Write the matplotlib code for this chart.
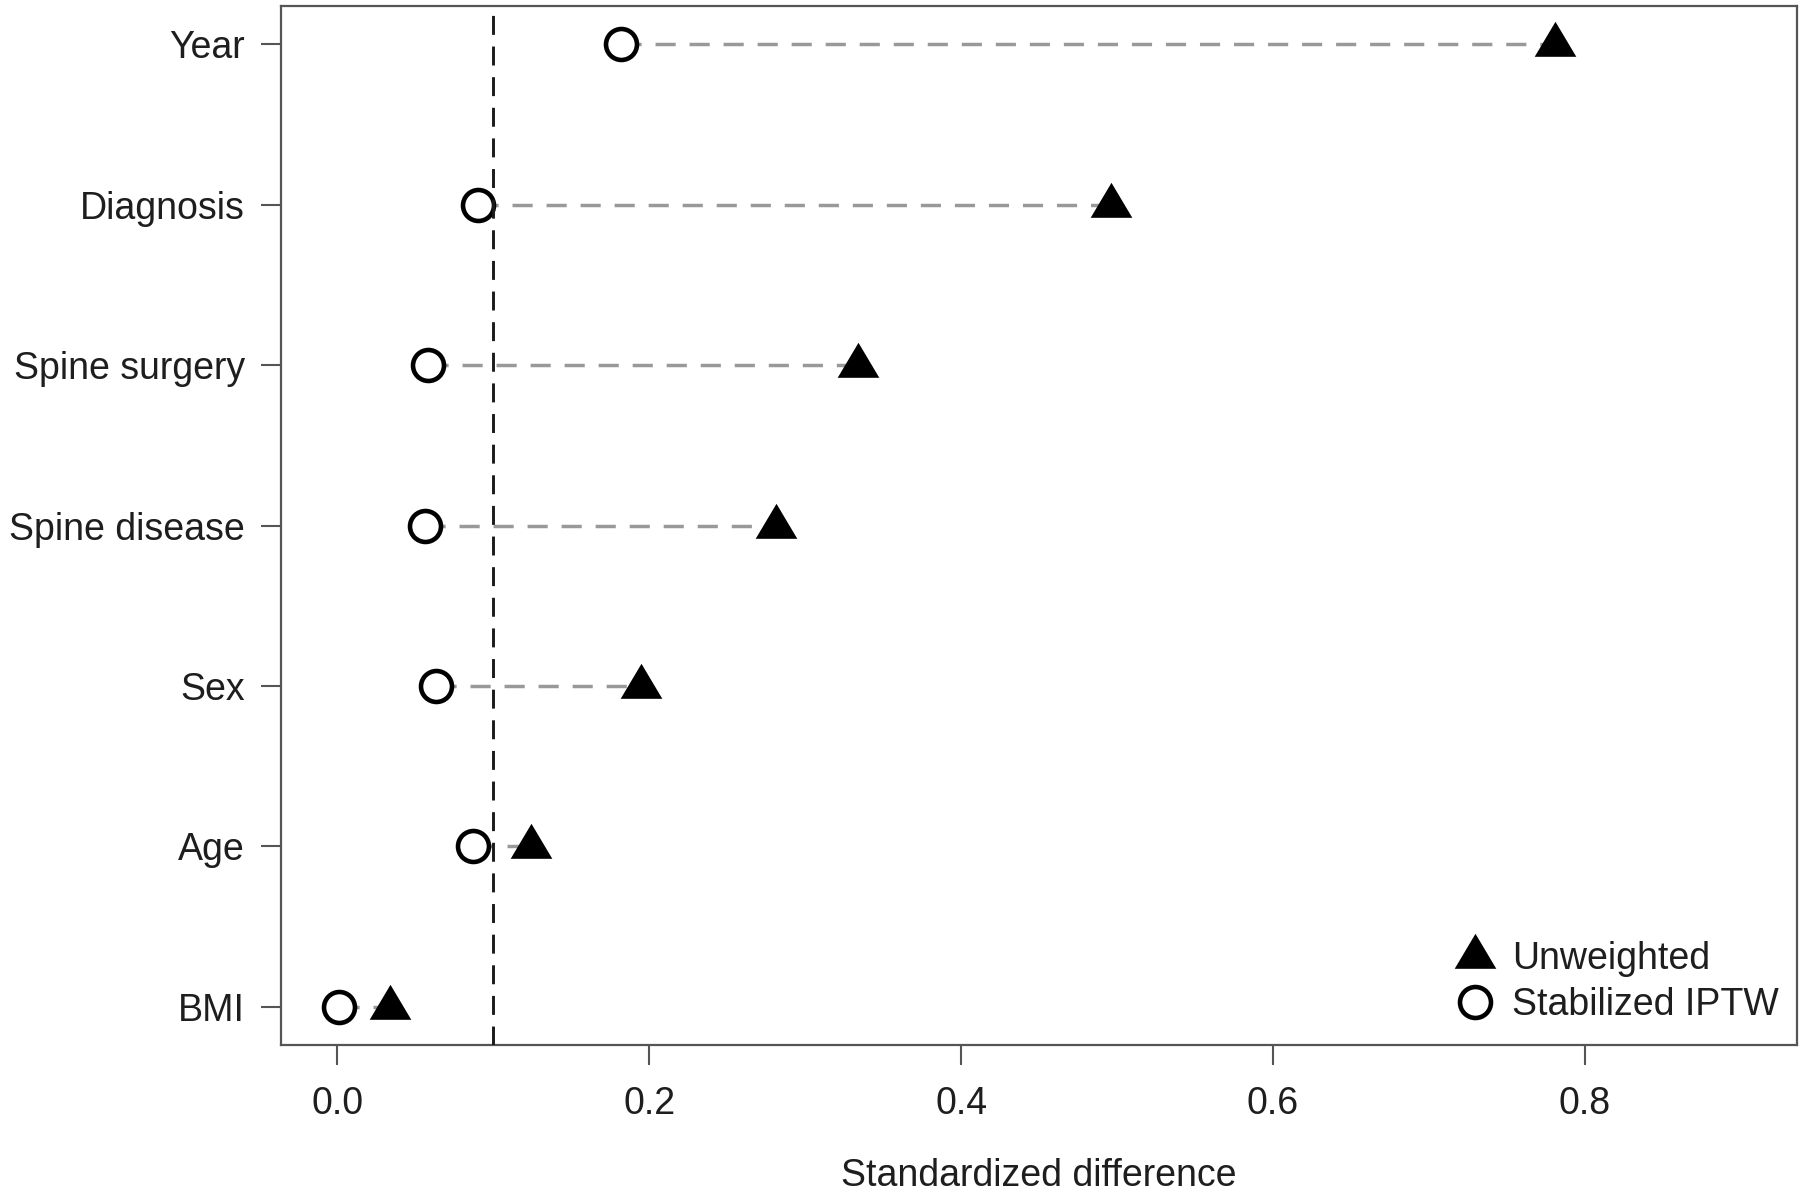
"""
Covariate balance plot: standardized difference before (unweighted) and
after stabilized IPTW weighting, with the 0.1 threshold marked.
"""
import matplotlib
matplotlib.use("Agg")
import matplotlib.pyplot as plt
from matplotlib.lines import Line2D
from matplotlib.path import Path

plt.rcParams["font.family"] = ["Liberation Sans", "DejaVu Sans"]

# ----- data -----
covariates = ["Year", "Diagnosis", "Spine surgery", "Spine disease", "Sex", "Age", "BMI"]
unweighted = [0.781, 0.496, 0.334, 0.281, 0.195, 0.124, 0.034]
stabilized_iptw = [0.182, 0.090, 0.058, 0.056, 0.063, 0.087, 0.001]
threshold = 0.1
x_ticks = [0.0, 0.2, 0.4, 0.6, 0.8]
x_tick_labels = ["0.0", "0.2", "0.4", "0.6", "0.8"]

TEXT = "#1e1e1e"
FRAME = "#555555"
FS = 27

# R-style filled triangle (pch 17): centred near the centroid, not the bbox
tri = Path([(0.0, 1.0), (-0.917, -0.542), (0.917, -0.542), (0.0, 1.0)],
           [Path.MOVETO, Path.LINETO, Path.LINETO, Path.CLOSEPOLY])
TRI_SIZE = 32.7
CIRC_SIZE = 22.3
CIRC_EW = 3.3

fig = plt.figure(figsize=(18, 11.95), dpi=100)
ax = fig.add_axes([0.1563, 0.1255, 0.8419, 0.8695])

# rows from top (Year) to bottom (BMI)
n = len(covariates)
ypos = list(range(n, 0, -1))

for y, a, b in zip(ypos, stabilized_iptw, unweighted):
    ax.plot([a, b], [y, y], color="#999999", lw=2.5, dashes=(5.8, 4.0),
            dash_capstyle="butt", zorder=1)

ax.axvline(threshold, color="#1a1a1a", lw=2.1, dashes=(6.5, 4.0), zorder=5)

ax.plot(unweighted, ypos, linestyle="none", marker=tri, markersize=TRI_SIZE,
        color="black", markeredgewidth=0, zorder=4)
ax.plot(stabilized_iptw, ypos, linestyle="none", marker="o", markersize=CIRC_SIZE,
        markerfacecolor="white", markeredgecolor="black",
        markeredgewidth=CIRC_EW, zorder=4)

ax.set_xlim(-0.036, 0.936)
ax.set_ylim(0.76, 7.24)

ax.set_yticks(ypos)
ax.set_yticklabels(covariates)
ax.set_xticks(x_ticks)
ax.set_xticklabels(x_tick_labels)

ax.tick_params(axis="both", colors=FRAME, labelcolor=TEXT, labelsize=FS,
               length=14.4, width=1.5)
ax.tick_params(axis="y", pad=12)
ax.tick_params(axis="x", pad=15)

for sp in ax.spines.values():
    sp.set_color(FRAME)
    sp.set_linewidth(1.6)

ax.set_xlabel("Standardized difference", fontsize=FS, color=TEXT)
ax.xaxis.set_label_coords(0.5, -0.109)

handles = [
    Line2D([], [], linestyle="none", marker=tri, markersize=TRI_SIZE,
           color="black", markeredgewidth=0),
    Line2D([], [], linestyle="none", marker="o", markersize=CIRC_SIZE,
           markerfacecolor="white", markeredgecolor="black",
           markeredgewidth=CIRC_EW),
]
leg = ax.legend(handles, ["Unweighted", "Stabilized IPTW"], loc="lower right",
                bbox_to_anchor=(0.988, 0.021), frameon=False, fontsize=FS,
                handlelength=1.0, handletextpad=0.48, labelspacing=0.26,
                borderpad=0, borderaxespad=0)
for t in leg.get_texts():
    t.set_color(TEXT)

fig.savefig("out.png", dpi=100, facecolor="white")
